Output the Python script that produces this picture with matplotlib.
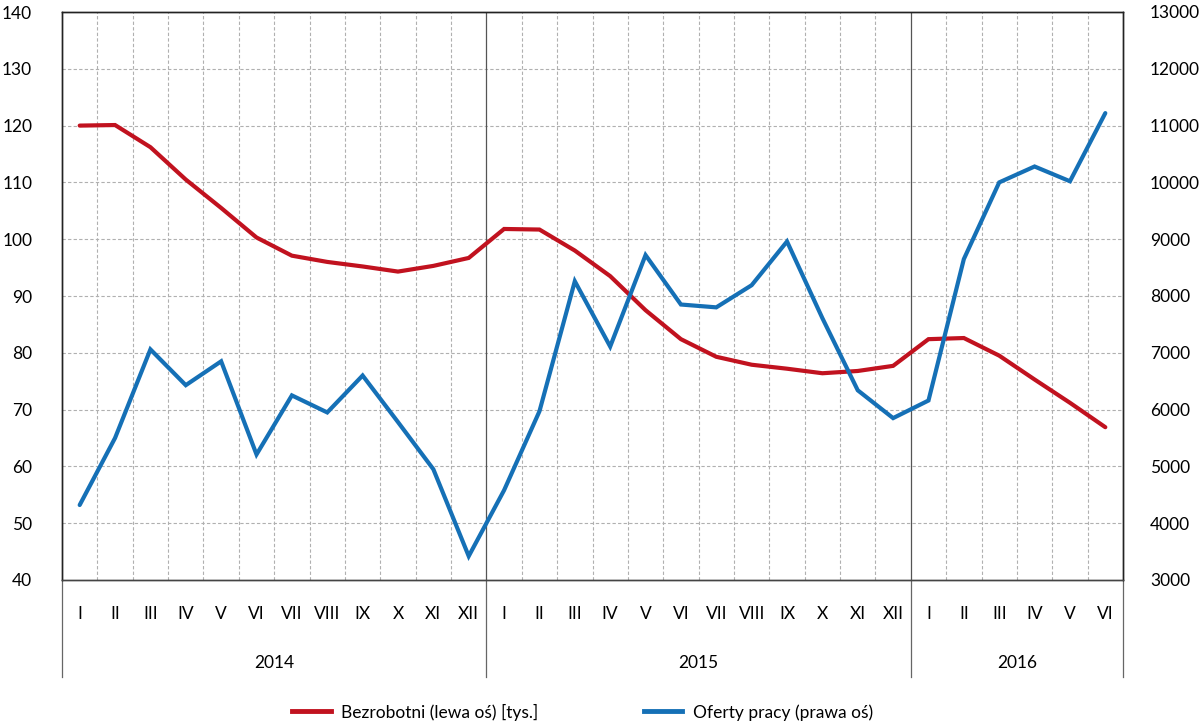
import numpy as np
import matplotlib.pyplot as plt
from matplotlib.lines import Line2D

# =========================================================
# DATA
# =========================================================

MONTHS = ["I", "II", "III", "IV", "V", "VI", "VII", "VIII", "IX", "X", "XI", "XII"]
YEARS = ["2014", "2015", "2016"]
MONTH_LABELS = MONTHS + MONTHS + MONTHS[:6]

unemployed = [120.0, 120.1, 116.2, 110.5, 105.5, 100.3, 97.1, 96.0, 95.2, 94.3, 95.3, 96.7,
              101.8, 101.7, 98.0, 93.5, 87.5, 82.4, 79.3, 77.9, 77.2, 76.4, 76.8, 77.7,
              82.4, 82.6, 79.5, 75.3, 71.2, 66.9]

job_offers = [4320, 5500, 7060, 6430, 6850, 5210, 6250, 5950, 6600, 5780, 4950, 3420,
              4580, 5970, 8260, 7110, 8720, 7850, 7800, 8190, 8960, 7610, 6340, 5850,
              6160, 8650, 10000, 10280, 10020, 11220]

RED = "#C1121F"
BLUE = "#1570B6"

plt.rcParams["font.family"] = ["Lato", "DejaVu Sans"]

# =========================================================
# PLOT
# =========================================================

fig = plt.figure(figsize=(12, 7.23), dpi=100)
ax = fig.add_axes([62 / 1200, 1 - 580 / 723, (1123 - 62) / 1200, (580 - 12) / 723])
ax2 = ax.twinx()

n = len(MONTH_LABELS)
x = np.arange(n) + 0.5

ax.set_xlim(0, n)
ax.set_ylim(40, 140)
ax2.set_ylim(3000, 13000)

# grid
for v in range(50, 140, 10):
    ax.axhline(v, color="#b0b0b0", lw=0.8, ls=(0, (3, 2)), zorder=0)
for i in range(1, n):
    if i % 12 == 0:
        ax.axvline(i, color="#555555", lw=0.9, zorder=0)
    else:
        ax.axvline(i, color="#b0b0b0", lw=0.8, ls=(0, (3, 2)), zorder=0)

ax.plot(x, unemployed, color=RED, lw=3, solid_capstyle="round", solid_joinstyle="miter", zorder=3)
ax2.plot(x, job_offers, color=BLUE, lw=3, solid_capstyle="round", solid_joinstyle="miter", zorder=3)

ax.set_xticks([])
ax.set_yticks(range(40, 141, 10))
ax2.set_yticks(range(3000, 13001, 1000))
ax.tick_params(axis="y", length=0, pad=21.5, labelsize=12.5)
ax2.tick_params(axis="y", length=0, pad=19.5, labelsize=12.5)

for a in (ax, ax2):
    a.spines["left"].set_color("#222222")
    a.spines["right"].set_color("#222222")
    a.spines["top"].set_color("#222222")
    a.spines["bottom"].set_color("#444444")
    for s in a.spines.values():
        s.set_linewidth(1.0)

# month and year labels below the axis
trans = ax.get_xaxis_transform()
for xi, lab in zip(x, MONTH_LABELS):
    ax.text(xi, -0.06, lab, transform=trans, ha="center", va="center", fontsize=12.5)

for k, yr in enumerate(YEARS):
    start = k * 12
    end = min(start + 12, n)
    ax.text((start + end) / 2, -0.147, yr, transform=trans, ha="center", va="center", fontsize=12.5)

for b in [0, 12, 24, n]:
    ax.add_line(Line2D([b, b], [0, -0.171], transform=trans, color="#666666", lw=0.9, clip_on=False))

# legend
handles = [Line2D([], [], color=RED, lw=3.5), Line2D([], [], color=BLUE, lw=3.5)]
fig.legend(handles, ["Bezrobotni (lewa oś) [tys.]", "Oferty pracy (prawa oś)"],
           loc="center", bbox_to_anchor=(0.4855, 1 - 712 / 723), ncol=2, frameon=False,
           fontsize=12.5, handlelength=2.2, columnspacing=6.1, handletextpad=0.6)

plt.savefig("out.png", dpi=100)
